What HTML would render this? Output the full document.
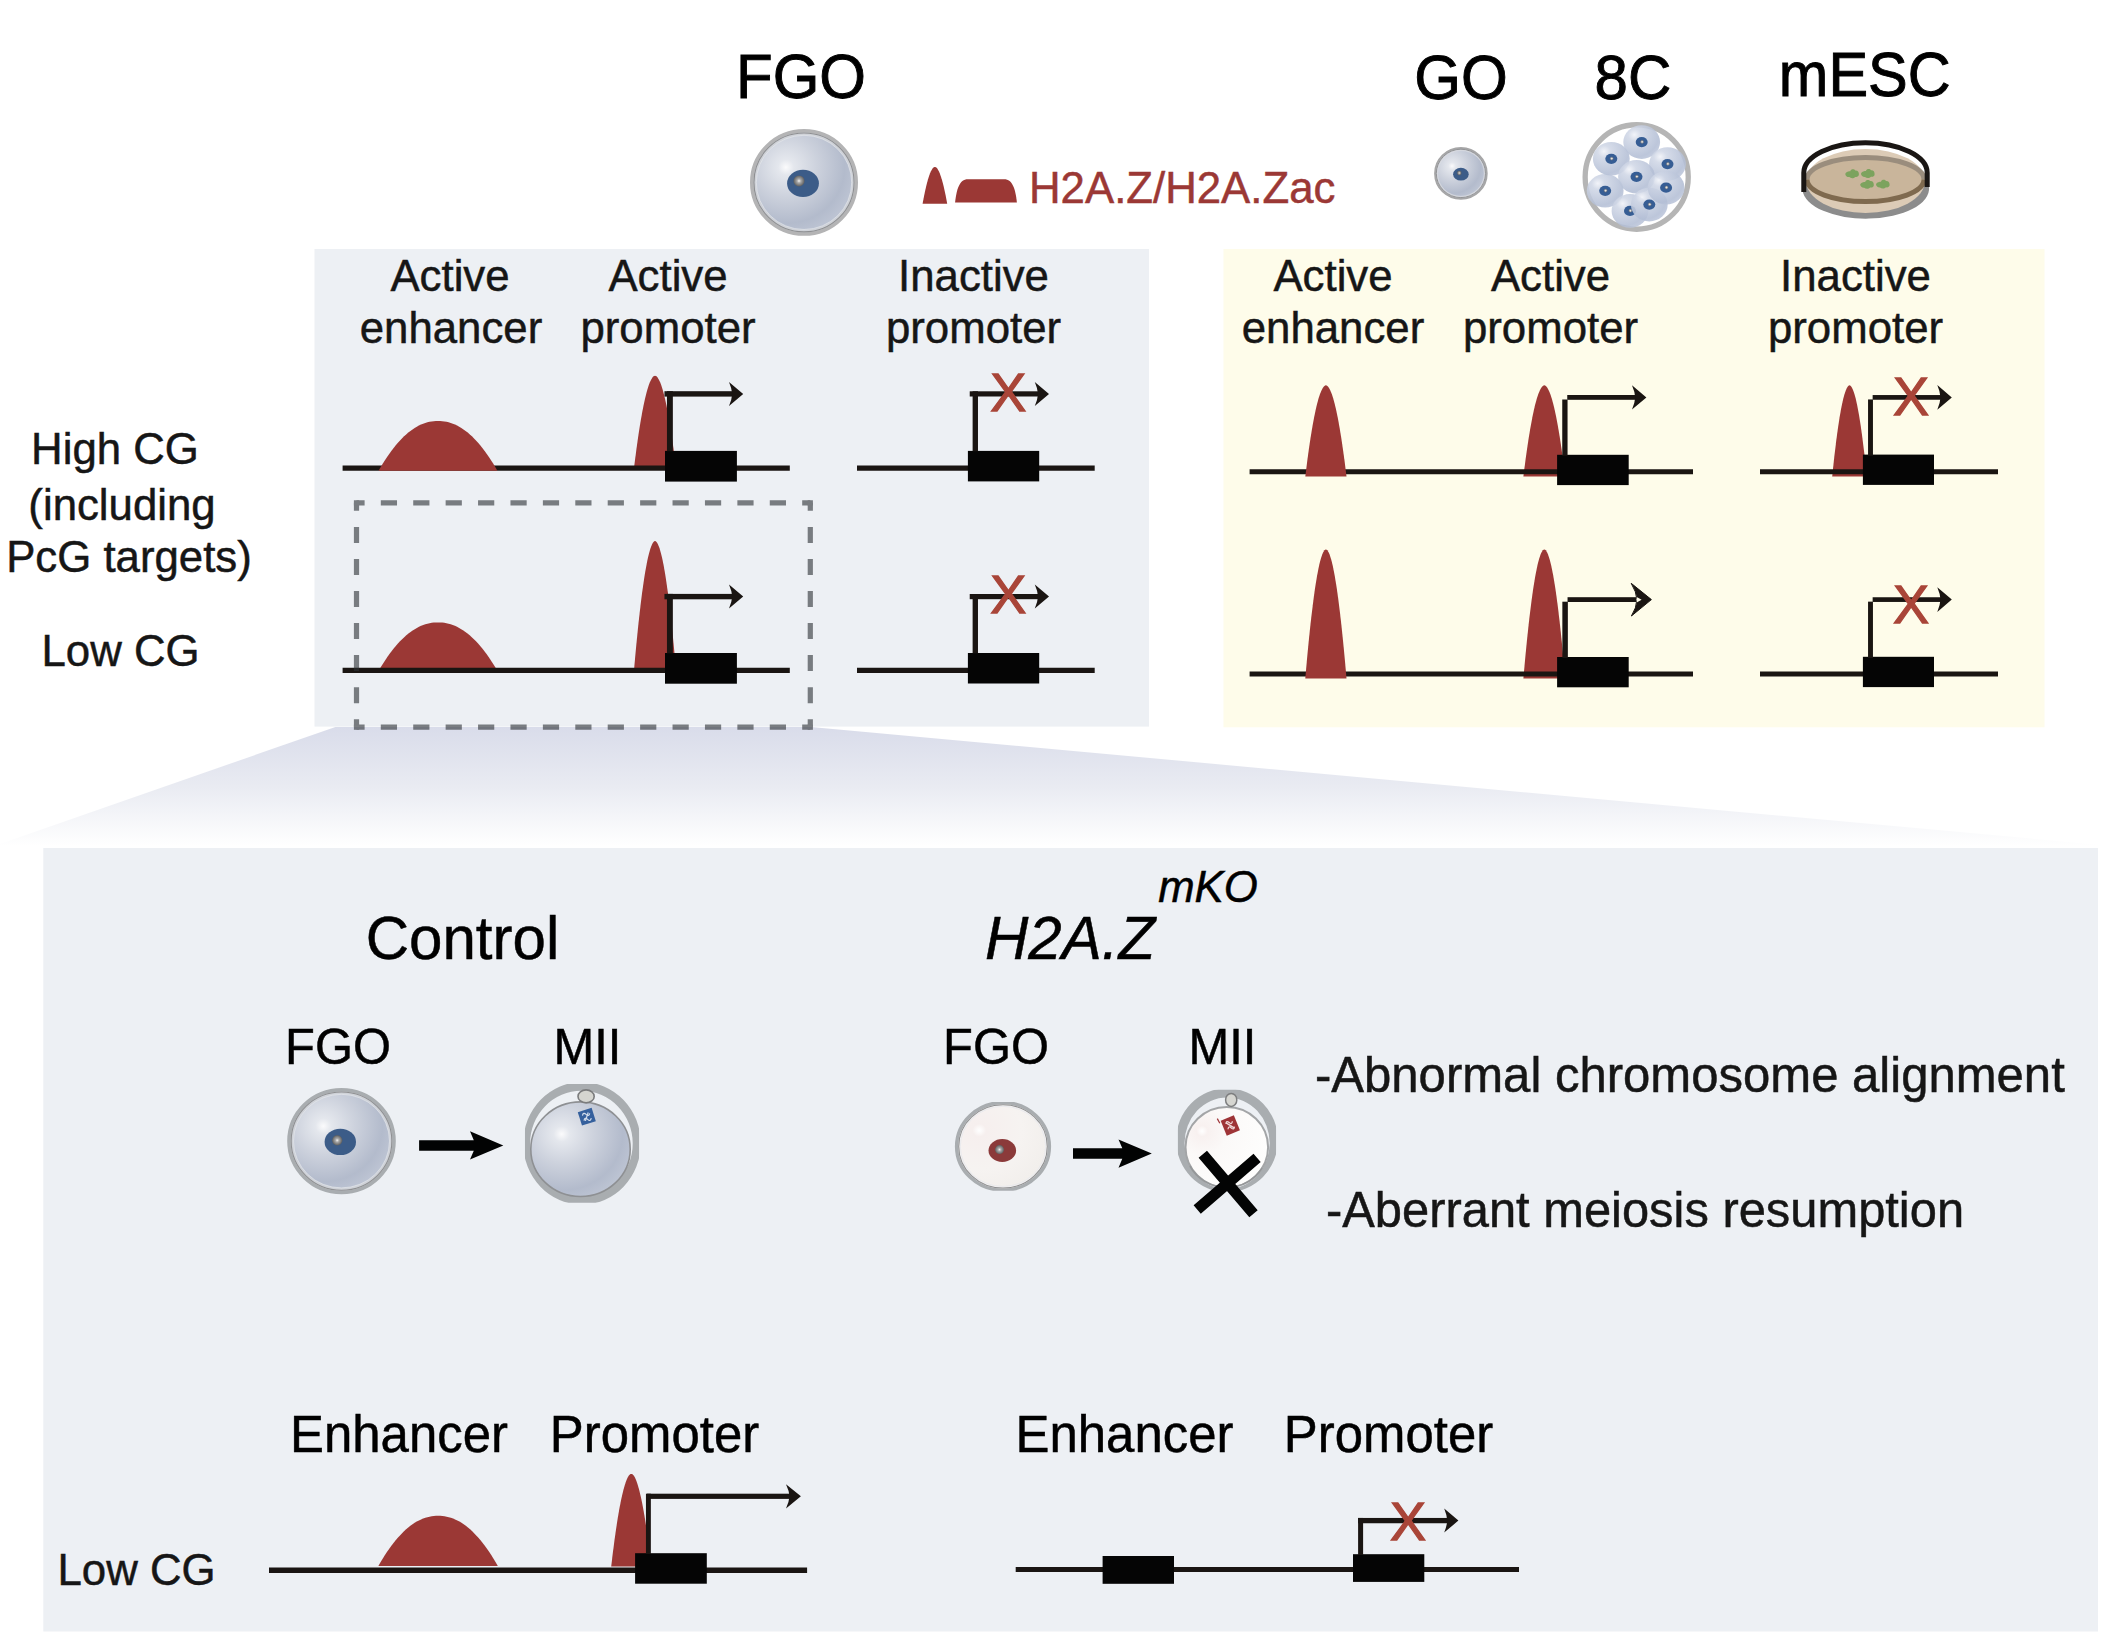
<!DOCTYPE html>
<html lang="en"><head><meta charset="utf-8"><title>H2A.Z graphical abstract</title>
<style>html,body{margin:0;padding:0;background:#fff}svg{display:block}text{font-family:"Liberation Sans", sans-serif}</style></head><body>
<svg width="2116" height="1652" viewBox="0 0 2116 1652">
<defs>
<radialGradient id="gCell" cx="0.33" cy="0.33" r="0.75" fx="0.31" fy="0.34">
<stop offset="0" stop-color="#fbfbfc"/><stop offset="0.11" stop-color="#e4e7ed"/><stop offset="0.42" stop-color="#cdd2dd"/><stop offset="0.8" stop-color="#b3bbcc"/><stop offset="1" stop-color="#bec5d4"/></radialGradient>
<radialGradient id="gCellKO" cx="0.25" cy="0.3" r="0.8" fx="0.22" fy="0.3">
<stop offset="0" stop-color="#ffffff"/><stop offset="0.1" stop-color="#f6efee"/><stop offset="0.6" stop-color="#f6f3f1"/><stop offset="1" stop-color="#f2efec"/></radialGradient>
<radialGradient id="gNuc" cx="0.5" cy="0.5" r="0.5">
<stop offset="0" stop-color="#f4f4f4"/><stop offset="0.35" stop-color="#a9a9a9"/><stop offset="1" stop-color="#5e5e5e"/></radialGradient>
<radialGradient id="gBlast" cx="0.33" cy="0.3" r="0.8" fx="0.3" fy="0.28">
<stop offset="0" stop-color="#f0f2f8"/><stop offset="0.22" stop-color="#d0d7e6"/><stop offset="0.8" stop-color="#b3bed5"/><stop offset="1" stop-color="#bfc8dc"/></radialGradient>
<radialGradient id="gCellKO2" cx="0.22" cy="0.3" r="0.85" fx="0.2" fy="0.3">
<stop offset="0" stop-color="#ffffff"/><stop offset="0.08" stop-color="#f8f1f0"/><stop offset="0.35" stop-color="#fbf9f8"/><stop offset="1" stop-color="#fefefd"/></radialGradient>
<linearGradient id="gTrap" x1="0" y1="0" x2="0" y2="1">
<stop offset="0" stop-color="#d9dcea"/><stop offset="0.5" stop-color="#e9ebf2"/><stop offset="1" stop-color="#ffffff"/></linearGradient>
</defs>
<rect width="2116" height="1652" fill="#ffffff"/>
<rect x="314.5" y="249" width="834.5" height="477.6" fill="#edf0f4"/>
<rect x="1223.5" y="249" width="821" height="478.3" fill="#fefcea"/>
<polygon points="335.4,727 811,727 2112,846 -6,846" fill="url(#gTrap)"/>
<rect x="43.3" y="848" width="2054.7" height="783.5" fill="#edf0f4"/>
<text transform="translate(801,98.4) scale(1,1.055)" font-size="60.06" text-anchor="middle" fill="#000" stroke="#000" stroke-width="0.9"  >FGO</text>
<text transform="translate(1461,99.2) scale(1,1.055)" font-size="60.16" text-anchor="middle" fill="#000" stroke="#000" stroke-width="0.9"  >GO</text>
<text transform="translate(1633,99.2) scale(1,1.055)" font-size="60.06" text-anchor="middle" fill="#000" stroke="#000" stroke-width="0.9"  >8C</text>
<text transform="translate(1864.8,95.8) scale(1,1.055)" font-size="59.5" text-anchor="middle" fill="#000" stroke="#000" stroke-width="0.9"  >mESC</text>
<text transform="translate(1029,202.5) scale(1,1.025)" font-size="43.77" text-anchor="start" fill="#9b3835" stroke="#9b3835" stroke-width="0.5"  >H2A.Z/H2A.Zac</text>
<path d="M922.60,203.80 L923.04,201.37 L923.48,199.02 L923.92,196.75 L924.36,194.56 L924.80,192.44 L925.24,190.41 L925.68,188.45 L926.11,186.57 L926.55,184.77 L926.99,183.05 L927.43,181.41 L927.87,179.86 L928.31,178.39 L928.75,176.99 L929.19,175.69 L929.63,174.47 L930.07,173.33 L930.51,172.28 L930.95,171.32 L931.39,170.45 L931.83,169.66 L932.26,168.97 L932.70,168.37 L933.14,167.87 L933.58,167.47 L934.02,167.17 L934.46,166.97 L934.90,166.90 L935.34,166.97 L935.78,167.17 L936.22,167.47 L936.66,167.87 L937.10,168.37 L937.54,168.97 L937.98,169.66 L938.41,170.45 L938.85,171.32 L939.29,172.28 L939.73,173.33 L940.17,174.47 L940.61,175.69 L941.05,176.99 L941.49,178.39 L941.93,179.86 L942.37,181.41 L942.81,183.05 L943.25,184.77 L943.69,186.57 L944.13,188.45 L944.56,190.41 L945.00,192.44 L945.44,194.56 L945.88,196.75 L946.32,199.02 L946.76,201.37 L947.20,203.80 Z" fill="#9b3835"/>
<path d="M955.1,202.4 C956.6,190 959,179.3 968,179.3 L1004,179.3 C1013,179.3 1015.4,190 1016.9,202.4 Z" fill="#9b3835"/>
<ellipse cx="804" cy="182.4" rx="52.3" ry="51.699999999999996" fill="#cfd2d8" stroke="#b4b4b5" stroke-width="3.4"/>
<ellipse cx="804" cy="182.4" rx="50.050000000000004" ry="49.45" fill="none" stroke="#8f9092" stroke-width="1.1"/>
<ellipse cx="804" cy="182.4" rx="47.7" ry="47.1" fill="url(#gCell)" stroke="#e4e6eb" stroke-width="0.7"/>
<ellipse cx="803" cy="183.4" rx="15.9" ry="13.6" fill="#3c5c88"/>
<circle cx="799" cy="180.9" r="5.5" fill="url(#gNuc)"/>
<ellipse cx="1460.9" cy="173.4" rx="25.85" ry="25.45" fill="#cfd2d8" stroke="#a6a6a7" stroke-width="1.9"/>
<ellipse cx="1460.9" cy="173.4" rx="24.59264705882353" ry="24.19264705882353" fill="none" stroke="#8f9092" stroke-width="0.95"/>
<ellipse cx="1460.9" cy="173.4" rx="23.279411764705884" ry="22.879411764705882" fill="url(#gCell)" stroke="#e4e6eb" stroke-width="0.3911764705882353"/>
<ellipse cx="1460.9" cy="174.20000000000002" rx="7.8" ry="6.4" fill="#3c5c88"/>
<circle cx="1459.3000000000002" cy="173.00000000000003" r="2.2" fill="url(#gNuc)"/>
<ellipse cx="1636.7" cy="177" rx="51.55" ry="52.25" fill="#ffffff" stroke="#b5b5b5" stroke-width="5.3"/>
<ellipse cx="1605.2" cy="190.8" rx="18.4" ry="16.8" fill="url(#gBlast)" fill-opacity="0.88"/>
<ellipse cx="1605.2" cy="190.8" rx="6" ry="5.1" fill="#365d94"/>
<circle cx="1605.6000000000001" cy="190.60000000000002" r="1.4" fill="#e9e7e3" stroke="#6f7074" stroke-width="0.7"/>
<ellipse cx="1611.3" cy="158.8" rx="18.4" ry="16.8" fill="url(#gBlast)" fill-opacity="0.88"/>
<ellipse cx="1611.3" cy="158.8" rx="6" ry="5.1" fill="#365d94"/>
<circle cx="1611.7" cy="158.60000000000002" r="1.4" fill="#e9e7e3" stroke="#6f7074" stroke-width="0.7"/>
<ellipse cx="1641.7" cy="142.1" rx="18.4" ry="16.8" fill="url(#gBlast)" fill-opacity="0.88"/>
<ellipse cx="1641.7" cy="142.1" rx="6" ry="5.1" fill="#365d94"/>
<circle cx="1642.1000000000001" cy="141.9" r="1.4" fill="#e9e7e3" stroke="#6f7074" stroke-width="0.7"/>
<ellipse cx="1667.5" cy="164.1" rx="18.4" ry="16.8" fill="url(#gBlast)" fill-opacity="0.88"/>
<ellipse cx="1667.5" cy="164.1" rx="6" ry="5.1" fill="#365d94"/>
<circle cx="1667.9" cy="163.9" r="1.4" fill="#e9e7e3" stroke="#6f7074" stroke-width="0.7"/>
<ellipse cx="1636.5" cy="176.8" rx="18.4" ry="16.8" fill="url(#gBlast)" fill-opacity="0.88"/>
<ellipse cx="1636.5" cy="176.8" rx="6" ry="5.1" fill="#365d94"/>
<circle cx="1636.9" cy="176.60000000000002" r="1.4" fill="#e9e7e3" stroke="#6f7074" stroke-width="0.7"/>
<ellipse cx="1630" cy="210.9" rx="18.4" ry="16.8" fill="url(#gBlast)" fill-opacity="0.88"/>
<ellipse cx="1630" cy="210.9" rx="6" ry="5.1" fill="#365d94"/>
<circle cx="1630.4" cy="210.70000000000002" r="1.4" fill="#e9e7e3" stroke="#6f7074" stroke-width="0.7"/>
<ellipse cx="1649.3" cy="204.6" rx="18.4" ry="16.8" fill="url(#gBlast)" fill-opacity="0.88"/>
<ellipse cx="1649.3" cy="204.6" rx="6" ry="5.1" fill="#365d94"/>
<circle cx="1649.7" cy="204.4" r="1.4" fill="#e9e7e3" stroke="#6f7074" stroke-width="0.7"/>
<ellipse cx="1666.1" cy="187.7" rx="18.4" ry="16.8" fill="url(#gBlast)" fill-opacity="0.88"/>
<ellipse cx="1666.1" cy="187.7" rx="6" ry="5.1" fill="#365d94"/>
<circle cx="1666.5" cy="187.5" r="1.4" fill="#e9e7e3" stroke="#6f7074" stroke-width="0.7"/>
<g>
<path d="M1802.5,190 A63,30 0 0 0 1929,187 L1929,182 L1802.5,182 Z" fill="#8c8c8c"/>
<ellipse cx="1865.5" cy="181" rx="59.5" ry="32" fill="#dccbb6"/>
<ellipse cx="1865.5" cy="179.5" rx="58.5" ry="22" fill="#c9b59b"/>
<path d="M1807,179.5 A58.5,22 0 0 1 1924,179.5" fill="none" stroke="#9a8d7d" stroke-width="5"/>
<path d="M1807,179.5 A58.5,22 0 0 0 1924,179.5" fill="none" stroke="#7f6a4f" stroke-width="5"/>
<path d="M1803.8,192 V172.7 A61.7,30 0 0 1 1927.2,172.7 V187" fill="none" stroke="#1a1614" stroke-width="5"/>
<path d="M1845.3,173.9 c1,-2.5 3.5,-2.5 5,-2.6 c0.5,-2.4 4,-2.6 5,-0.8 c2.5,-0.2 3.6,1.6 3.6,3.6 c0.3,2 -1.6,3.2 -3.6,2.8 c-1.5,1.6 -4.5,1.6 -6,0.2 c-2,0.2 -4,-1.2 -4,-3.2 Z" fill="#7ca35e"/>
<path d="M1861,173.7 c1,-2.5 3.5,-2.5 5,-2.6 c0.5,-2.4 4,-2.6 5,-0.8 c2.5,-0.2 3.6,1.6 3.6,3.6 c0.3,2 -1.6,3.2 -3.6,2.8 c-1.5,1.6 -4.5,1.6 -6,0.2 c-2,0.2 -4,-1.2 -4,-3.2 Z" fill="#7ca35e"/>
<path d="M1860.2,184.5 c1,-2.5 3.5,-2.5 5,-2.6 c0.5,-2.4 4,-2.6 5,-0.8 c2.5,-0.2 3.6,1.6 3.6,3.6 c0.3,2 -1.6,3.2 -3.6,2.8 c-1.5,1.6 -4.5,1.6 -6,0.2 c-2,0.2 -4,-1.2 -4,-3.2 Z" fill="#7ca35e"/>
<path d="M1876,184.3 c1,-2.5 3.5,-2.5 5,-2.6 c0.5,-2.4 4,-2.6 5,-0.8 c2.5,-0.2 3.6,1.6 3.6,3.6 c0.3,2 -1.6,3.2 -3.6,2.8 c-1.5,1.6 -4.5,1.6 -6,0.2 c-2,0.2 -4,-1.2 -4,-3.2 Z" fill="#7ca35e"/>
</g>
<text transform="translate(450,291) scale(1,1.025)" font-size="43.77" text-anchor="middle" fill="#161616" stroke="#161616" stroke-width="0.5"  >Active</text>
<text transform="translate(451,343) scale(1,1.025)" font-size="43.77" text-anchor="middle" fill="#161616" stroke="#161616" stroke-width="0.5"  >enhancer</text>
<text transform="translate(668,291) scale(1,1.025)" font-size="43.77" text-anchor="middle" fill="#161616" stroke="#161616" stroke-width="0.5"  >Active</text>
<text transform="translate(668,343) scale(1,1.025)" font-size="43.77" text-anchor="middle" fill="#161616" stroke="#161616" stroke-width="0.5"  >promoter</text>
<text transform="translate(973.5,291) scale(1,1.025)" font-size="43.77" text-anchor="middle" fill="#161616" stroke="#161616" stroke-width="0.5"  >Inactive</text>
<text transform="translate(973.5,343) scale(1,1.025)" font-size="43.77" text-anchor="middle" fill="#161616" stroke="#161616" stroke-width="0.5"  >promoter</text>
<text transform="translate(1333,291) scale(1,1.025)" font-size="43.77" text-anchor="middle" fill="#161616" stroke="#161616" stroke-width="0.5"  >Active</text>
<text transform="translate(1333,343) scale(1,1.025)" font-size="43.77" text-anchor="middle" fill="#161616" stroke="#161616" stroke-width="0.5"  >enhancer</text>
<text transform="translate(1550.5,291) scale(1,1.025)" font-size="43.77" text-anchor="middle" fill="#161616" stroke="#161616" stroke-width="0.5"  >Active</text>
<text transform="translate(1550.5,343) scale(1,1.025)" font-size="43.77" text-anchor="middle" fill="#161616" stroke="#161616" stroke-width="0.5"  >promoter</text>
<text transform="translate(1855.5,291) scale(1,1.025)" font-size="43.77" text-anchor="middle" fill="#161616" stroke="#161616" stroke-width="0.5"  >Inactive</text>
<text transform="translate(1855.5,343) scale(1,1.025)" font-size="43.77" text-anchor="middle" fill="#161616" stroke="#161616" stroke-width="0.5"  >promoter</text>
<text transform="translate(115,464) scale(1,1.025)" font-size="43.77" text-anchor="middle" fill="#161616" stroke="#161616" stroke-width="0.5"  >High CG</text>
<text transform="translate(122,520) scale(1,1.025)" font-size="43.77" text-anchor="middle" fill="#161616" stroke="#161616" stroke-width="0.5"  >(including</text>
<text transform="translate(129,571.5) scale(1,1.025)" font-size="43.77" text-anchor="middle" fill="#161616" stroke="#161616" stroke-width="0.5"  >PcG targets)</text>
<text transform="translate(120.5,665.7) scale(1,1.025)" font-size="43.77" text-anchor="middle" fill="#161616" stroke="#161616" stroke-width="0.5"  >Low CG</text>
<path d="M634.00,468.20 L634.75,462.12 L635.50,456.23 L636.25,450.53 L637.00,445.03 L637.75,439.73 L638.50,434.62 L639.25,429.71 L640.00,425.00 L640.75,420.49 L641.50,416.19 L642.25,412.08 L643.00,408.18 L643.75,404.49 L644.50,401.01 L645.25,397.73 L646.00,394.67 L646.75,391.82 L647.50,389.19 L648.25,386.78 L649.00,384.59 L649.75,382.62 L650.50,380.89 L651.25,379.39 L652.00,378.13 L652.75,377.12 L653.50,376.37 L654.25,375.88 L655.00,375.70 L655.75,375.88 L656.50,376.37 L657.25,377.12 L658.00,378.13 L658.75,379.39 L659.50,380.89 L660.25,382.62 L661.00,384.59 L661.75,386.78 L662.50,389.19 L663.25,391.82 L664.00,394.67 L664.75,397.73 L665.50,401.01 L666.25,404.49 L667.00,408.18 L667.75,412.08 L668.50,416.19 L669.25,420.49 L670.00,425.00 L670.75,429.71 L671.50,434.62 L672.25,439.73 L673.00,445.03 L673.75,450.53 L674.50,456.23 L675.25,462.12 L676.00,468.20 Z" fill="#9b3835"/>
<line x1="342.6" y1="468.2" x2="789.8" y2="468.2" stroke="#1a1512" stroke-width="5.3"/>
<line x1="857" y1="468.2" x2="1094.7" y2="468.2" stroke="#1a1512" stroke-width="5.3"/>
<path d="M378.60,470.70 L380.72,467.05 L382.84,463.54 L384.96,460.17 L387.09,456.96 L389.21,453.88 L391.33,450.95 L393.45,448.16 L395.57,445.52 L397.69,443.01 L399.81,440.65 L401.94,438.43 L404.06,436.35 L406.18,434.40 L408.30,432.59 L410.42,430.92 L412.54,429.39 L414.66,427.99 L416.79,426.72 L418.91,425.58 L421.03,424.58 L423.15,423.70 L425.27,422.96 L427.39,422.33 L429.51,421.83 L431.64,421.46 L433.76,421.19 L435.88,421.05 L438.00,421.00 L440.12,421.05 L442.24,421.19 L444.36,421.46 L446.49,421.83 L448.61,422.33 L450.73,422.96 L452.85,423.70 L454.97,424.58 L457.09,425.58 L459.21,426.72 L461.34,427.99 L463.46,429.39 L465.58,430.92 L467.70,432.59 L469.82,434.40 L471.94,436.35 L474.06,438.43 L476.19,440.65 L478.31,443.01 L480.43,445.52 L482.55,448.16 L484.67,450.95 L486.79,453.88 L488.91,456.96 L491.04,460.17 L493.16,463.54 L495.28,467.05 L497.40,470.70 Z" fill="#9b3835"/>
<rect x="665" y="450.9" width="71.89999999999998" height="30.69999999999999" fill="#050505"/>
<rect x="666.9499999999999" y="391.2" width="5.9" height="60.000000000000014" fill="#1a1512"/>
<rect x="664.4499999999999" y="391.2" width="68.75000000000011" height="5.4" fill="#1a1512"/>
<path d="M743.2,393.9 L729.0,381.9 Q731.88,388.5 732.2,393.9 Q731.88,399.29999999999995 729.0,405.9 Z" fill="#1a1512"/>
<rect x="967.9" y="450.9" width="71.30000000000007" height="30.5" fill="#050505"/>
<rect x="972.625" y="391.29999999999995" width="5.35" height="59.90000000000001" fill="#1a1512"/>
<rect x="969.725" y="391.29999999999995" width="69.27499999999998" height="5.2" fill="#1a1512"/>
<path d="M1049,393.9 L1034.8,381.9 Q1037.68,388.5 1038.0,393.9 Q1037.68,399.29999999999995 1034.8,405.9 Z" fill="#1a1512"/>
<text x="1008.2" y="411.05799999999994" font-size="54" text-anchor="middle" fill="#a94538" stroke="#a94538" stroke-width="1.3">X</text>
<path d="M378.90,670.30 L381.01,666.78 L383.12,663.40 L385.23,660.16 L387.34,657.05 L389.45,654.09 L391.56,651.27 L393.67,648.58 L395.79,646.03 L397.90,643.62 L400.01,641.34 L402.12,639.20 L404.23,637.19 L406.34,635.32 L408.45,633.57 L410.56,631.96 L412.67,630.48 L414.78,629.13 L416.89,627.91 L419.00,626.82 L421.11,625.85 L423.23,625.01 L425.34,624.29 L427.45,623.69 L429.56,623.20 L431.67,622.84 L433.78,622.59 L435.89,622.44 L438.00,622.40 L440.11,622.44 L442.22,622.59 L444.33,622.84 L446.44,623.20 L448.55,623.69 L450.66,624.29 L452.77,625.01 L454.89,625.85 L457.00,626.82 L459.11,627.91 L461.22,629.13 L463.33,630.48 L465.44,631.96 L467.55,633.57 L469.66,635.32 L471.77,637.19 L473.88,639.20 L475.99,641.34 L478.10,643.62 L480.21,646.03 L482.33,648.58 L484.44,651.27 L486.55,654.09 L488.66,657.05 L490.77,660.16 L492.88,663.40 L494.99,666.78 L497.10,670.30 Z" fill="#9b3835"/>
<path d="M634.00,670.30 L634.75,661.80 L635.50,653.57 L636.25,645.61 L637.00,637.92 L637.75,630.50 L638.50,623.37 L639.25,616.50 L640.00,609.92 L640.75,603.62 L641.50,597.59 L642.25,591.86 L643.00,586.41 L643.75,581.24 L644.50,576.37 L645.25,571.80 L646.00,567.51 L646.75,563.53 L647.50,559.85 L648.25,556.48 L649.00,553.42 L649.75,550.68 L650.50,548.25 L651.25,546.16 L652.00,544.40 L652.75,542.98 L653.50,541.93 L654.25,541.25 L655.00,541.00 L655.75,541.25 L656.50,541.93 L657.25,542.98 L658.00,544.40 L658.75,546.16 L659.50,548.25 L660.25,550.68 L661.00,553.42 L661.75,556.48 L662.50,559.85 L663.25,563.53 L664.00,567.51 L664.75,571.80 L665.50,576.37 L666.25,581.24 L667.00,586.41 L667.75,591.86 L668.50,597.59 L669.25,603.62 L670.00,609.92 L670.75,616.50 L671.50,623.37 L672.25,630.50 L673.00,637.92 L673.75,645.61 L674.50,653.57 L675.25,661.80 L676.00,670.30 Z" fill="#9b3835"/>
<line x1="342.6" y1="670.3" x2="789.8" y2="670.3" stroke="#1a1512" stroke-width="5.3"/>
<line x1="857" y1="670.3" x2="1094.7" y2="670.3" stroke="#1a1512" stroke-width="5.3"/>
<rect x="665" y="653.0" width="71.89999999999998" height="30.699999999999932" fill="#050505"/>
<rect x="666.9499999999999" y="593.9" width="5.9" height="59.399999999999935" fill="#1a1512"/>
<rect x="664.4499999999999" y="593.9" width="68.75000000000011" height="5.4" fill="#1a1512"/>
<path d="M743.2,596.6 L729.0,584.6 Q731.88,591.2 732.2,596.6 Q731.88,602.0 729.0,608.6 Z" fill="#1a1512"/>
<rect x="967.9" y="653.0" width="71.30000000000007" height="30.5" fill="#050505"/>
<rect x="972.625" y="594.0" width="5.35" height="59.29999999999993" fill="#1a1512"/>
<rect x="969.725" y="594.0" width="69.27499999999998" height="5.2" fill="#1a1512"/>
<path d="M1049,596.6 L1034.8,584.6 Q1037.68,591.2 1038.0,596.6 Q1037.68,602.0 1034.8,608.6 Z" fill="#1a1512"/>
<text x="1008.2" y="613.008" font-size="54" text-anchor="middle" fill="#a94538" stroke="#a94538" stroke-width="1.3">X</text>
<g opacity="0.6">
<line x1="356.5" y1="502.85" x2="810.3" y2="502.85" stroke="#2c3034" stroke-width="5.2" stroke-dasharray="16.207 16.207" stroke-dashoffset="8.104"/>
<line x1="356.5" y1="727.2" x2="810.3" y2="727.2" stroke="#2c3034" stroke-width="5.2" stroke-dasharray="16.207 16.207" stroke-dashoffset="8.104"/>
<line x1="356.5" y1="502.85" x2="356.5" y2="727.2" stroke="#2c3034" stroke-width="5.2" stroke-dasharray="16.025 16.025" stroke-dashoffset="8.013"/>
<line x1="810.3" y1="502.85" x2="810.3" y2="727.2" stroke="#2c3034" stroke-width="5.2" stroke-dasharray="16.025 16.025" stroke-dashoffset="8.013"/>
<rect x="353.9" y="500.25" width="5.2" height="5.2" fill="#2c3034"/>
<rect x="807.6999999999999" y="500.25" width="5.2" height="5.2" fill="#2c3034"/>
<rect x="353.9" y="724.6" width="5.2" height="5.2" fill="#2c3034"/>
<rect x="807.6999999999999" y="724.6" width="5.2" height="5.2" fill="#2c3034"/>
</g>
<path d="M1523.40,476.50 L1524.15,470.50 L1524.89,464.70 L1525.64,459.08 L1526.39,453.66 L1527.13,448.43 L1527.88,443.40 L1528.63,438.55 L1529.37,433.91 L1530.12,429.47 L1530.86,425.22 L1531.61,421.17 L1532.36,417.33 L1533.10,413.69 L1533.85,410.25 L1534.60,407.02 L1535.34,404.00 L1536.09,401.19 L1536.84,398.60 L1537.58,396.22 L1538.33,394.06 L1539.08,392.13 L1539.82,390.42 L1540.57,388.94 L1541.31,387.70 L1542.06,386.70 L1542.81,385.96 L1543.55,385.48 L1544.30,385.30 L1545.05,385.48 L1545.79,385.96 L1546.54,386.70 L1547.29,387.70 L1548.03,388.94 L1548.78,390.42 L1549.53,392.13 L1550.27,394.06 L1551.02,396.22 L1551.76,398.60 L1552.51,401.19 L1553.26,404.00 L1554.00,407.02 L1554.75,410.25 L1555.50,413.69 L1556.24,417.33 L1556.99,421.17 L1557.74,425.22 L1558.48,429.47 L1559.23,433.91 L1559.98,438.55 L1560.72,443.40 L1561.47,448.43 L1562.21,453.66 L1562.96,459.08 L1563.71,464.70 L1564.45,470.50 L1565.20,476.50 Z" fill="#9b3835"/>
<path d="M1832.20,476.50 L1832.82,470.50 L1833.44,464.70 L1834.05,459.08 L1834.67,453.66 L1835.29,448.43 L1835.91,443.40 L1836.53,438.55 L1837.14,433.91 L1837.76,429.47 L1838.38,425.22 L1839.00,421.17 L1839.61,417.33 L1840.23,413.69 L1840.85,410.25 L1841.47,407.02 L1842.09,404.00 L1842.70,401.19 L1843.32,398.60 L1843.94,396.22 L1844.56,394.06 L1845.17,392.13 L1845.79,390.42 L1846.41,388.94 L1847.03,387.70 L1847.65,386.70 L1848.26,385.96 L1848.88,385.48 L1849.50,385.30 L1850.12,385.48 L1850.74,385.96 L1851.35,386.70 L1851.97,387.70 L1852.59,388.94 L1853.21,390.42 L1853.83,392.13 L1854.44,394.06 L1855.06,396.22 L1855.68,398.60 L1856.30,401.19 L1856.91,404.00 L1857.53,407.02 L1858.15,410.25 L1858.77,413.69 L1859.39,417.33 L1860.00,421.17 L1860.62,425.22 L1861.24,429.47 L1861.86,433.91 L1862.47,438.55 L1863.09,443.40 L1863.71,448.43 L1864.33,453.66 L1864.95,459.08 L1865.56,464.70 L1866.18,470.50 L1866.80,476.50 Z" fill="#9b3835"/>
<line x1="1249.6" y1="471.8" x2="1693" y2="471.8" stroke="#1a1512" stroke-width="5"/>
<line x1="1760" y1="471.8" x2="1998" y2="471.8" stroke="#1a1512" stroke-width="5"/>
<path d="M1305.30,476.50 L1306.04,470.50 L1306.77,464.70 L1307.51,459.08 L1308.24,453.66 L1308.98,448.43 L1309.71,443.40 L1310.45,438.55 L1311.19,433.91 L1311.92,429.47 L1312.66,425.22 L1313.39,421.17 L1314.13,417.33 L1314.86,413.69 L1315.60,410.25 L1316.34,407.02 L1317.07,404.00 L1317.81,401.19 L1318.54,398.60 L1319.28,396.22 L1320.01,394.06 L1320.75,392.13 L1321.49,390.42 L1322.22,388.94 L1322.96,387.70 L1323.69,386.70 L1324.43,385.96 L1325.16,385.48 L1325.90,385.30 L1326.64,385.48 L1327.37,385.96 L1328.11,386.70 L1328.84,387.70 L1329.58,388.94 L1330.31,390.42 L1331.05,392.13 L1331.79,394.06 L1332.52,396.22 L1333.26,398.60 L1333.99,401.19 L1334.73,404.00 L1335.46,407.02 L1336.20,410.25 L1336.94,413.69 L1337.67,417.33 L1338.41,421.17 L1339.14,425.22 L1339.88,429.47 L1340.61,433.91 L1341.35,438.55 L1342.09,443.40 L1342.82,448.43 L1343.56,453.66 L1344.29,459.08 L1345.03,464.70 L1345.76,470.50 L1346.50,476.50 Z" fill="#9b3835"/>
<rect x="1557.1" y="454.8" width="71.60000000000014" height="30.30000000000001" fill="#050505"/>
<rect x="1862.9" y="454.6" width="71.09999999999991" height="30.30000000000001" fill="#050505"/>
<rect x="1562.25" y="399.49999999999994" width="5.3" height="56.30000000000003" fill="#1a1512"/>
<rect x="1567.2500000000002" y="395.0" width="68.94999999999982" height="4.8" fill="#1a1512"/>
<path d="M1646.4,397.4 L1632.0,385.2 Q1634.88,391.90999999999997 1635.2,397.4 Q1634.88,402.89 1632.0,409.59999999999997 Z" fill="#1a1512"/>
<rect x="1868.05" y="399.45" width="4.9" height="56.35000000000003" fill="#1a1512"/>
<rect x="1872.65" y="395.04999999999995" width="68.84999999999991" height="4.7" fill="#1a1512"/>
<path d="M1951.8,397.4 L1937.3,385.09999999999997 Q1940.18,391.86499999999995 1940.5,397.4 Q1940.18,402.935 1937.3,409.7 Z" fill="#1a1512"/>
<text x="1911.1" y="415.008" font-size="54" text-anchor="middle" fill="#a94538" stroke="#a94538" stroke-width="1.3">X</text>
<path d="M1523.40,678.50 L1524.15,670.01 L1524.89,661.79 L1525.64,653.85 L1526.39,646.17 L1527.13,638.77 L1527.88,631.64 L1528.63,624.79 L1529.37,618.21 L1530.12,611.92 L1530.86,605.91 L1531.61,600.18 L1532.36,594.74 L1533.10,589.58 L1533.85,584.72 L1534.60,580.15 L1535.34,575.87 L1536.09,571.90 L1536.84,568.23 L1537.58,564.86 L1538.33,561.80 L1539.08,559.06 L1539.82,556.64 L1540.57,554.55 L1541.31,552.79 L1542.06,551.38 L1542.81,550.33 L1543.55,549.65 L1544.30,549.40 L1545.05,549.65 L1545.79,550.33 L1546.54,551.38 L1547.29,552.79 L1548.03,554.55 L1548.78,556.64 L1549.53,559.06 L1550.27,561.80 L1551.02,564.86 L1551.76,568.23 L1552.51,571.90 L1553.26,575.87 L1554.00,580.15 L1554.75,584.72 L1555.50,589.58 L1556.24,594.74 L1556.99,600.18 L1557.74,605.91 L1558.48,611.92 L1559.23,618.21 L1559.98,624.79 L1560.72,631.64 L1561.47,638.77 L1562.21,646.17 L1562.96,653.85 L1563.71,661.79 L1564.45,670.01 L1565.20,678.50 Z" fill="#9b3835"/>
<line x1="1249.6" y1="674.0" x2="1693" y2="674.0" stroke="#1a1512" stroke-width="5"/>
<line x1="1760" y1="674.0" x2="1998" y2="674.0" stroke="#1a1512" stroke-width="5"/>
<path d="M1305.30,678.50 L1306.04,670.01 L1306.77,661.79 L1307.51,653.85 L1308.24,646.17 L1308.98,638.77 L1309.71,631.64 L1310.45,624.79 L1311.19,618.21 L1311.92,611.92 L1312.66,605.91 L1313.39,600.18 L1314.13,594.74 L1314.86,589.58 L1315.60,584.72 L1316.34,580.15 L1317.07,575.87 L1317.81,571.90 L1318.54,568.23 L1319.28,564.86 L1320.01,561.80 L1320.75,559.06 L1321.49,556.64 L1322.22,554.55 L1322.96,552.79 L1323.69,551.38 L1324.43,550.33 L1325.16,549.65 L1325.90,549.40 L1326.64,549.65 L1327.37,550.33 L1328.11,551.38 L1328.84,552.79 L1329.58,554.55 L1330.31,556.64 L1331.05,559.06 L1331.79,561.80 L1332.52,564.86 L1333.26,568.23 L1333.99,571.90 L1334.73,575.87 L1335.46,580.15 L1336.20,584.72 L1336.94,589.58 L1337.67,594.74 L1338.41,600.18 L1339.14,605.91 L1339.88,611.92 L1340.61,618.21 L1341.35,624.79 L1342.09,631.64 L1342.82,638.77 L1343.56,646.17 L1344.29,653.85 L1345.03,661.79 L1345.76,670.01 L1346.50,678.50 Z" fill="#9b3835"/>
<rect x="1557.1" y="657.0" width="71.60000000000014" height="30.299999999999955" fill="#050505"/>
<rect x="1862.9" y="656.8" width="71.09999999999991" height="30.300000000000068" fill="#050505"/>
<rect x="1562.35" y="601.7" width="5.5" height="56.299999999999976" fill="#1a1512"/>
<rect x="1567.55" y="597.2" width="68.45000000000005" height="4.8" fill="#1a1512"/>
<path d="M1651.4,599.6 L1631.2,583.3 Q1636.6,592 1636.9,599.6 Q1636.6,608 1631.4,616 Z" fill="#1a1512" stroke="#1a1512" stroke-width="1" stroke-linejoin="miter"/>
<path d="M1636.7,596.9 L1641.6,599.8 L1636.7,602.6 Z" fill="#fefcea"/>
<rect x="1868.05" y="601.6500000000001" width="4.9" height="56.34999999999997" fill="#1a1512"/>
<rect x="1872.65" y="597.25" width="68.84999999999991" height="4.7" fill="#1a1512"/>
<path d="M1951.8,599.6 L1937.3,587.3000000000001 Q1940.18,594.065 1940.5,599.6 Q1940.18,605.135 1937.3,611.9 Z" fill="#1a1512"/>
<text x="1911.1" y="623.1080000000001" font-size="54" text-anchor="middle" fill="#a94538" stroke="#a94538" stroke-width="1.3">X</text>
<text transform="translate(462.5,959) scale(1,1.025)" font-size="60.06" text-anchor="middle" fill="#000" stroke="#000" stroke-width="0.5"  >Control</text>
<text transform="translate(1070,959) scale(1,1.025)" font-size="60.06" text-anchor="middle" fill="#000" stroke="#000" stroke-width="0.5" font-style="italic" >H2A.Z</text>
<text transform="translate(1208,901.5) scale(1,1.025)" font-size="43.77" text-anchor="middle" fill="#000" stroke="#000" stroke-width="0.5" font-style="italic" >mKO</text>
<text transform="translate(338,1064) scale(1,1.025)" font-size="48.86" text-anchor="middle" fill="#000" stroke="#000" stroke-width="0.5"  >FGO</text>
<text transform="translate(587.5,1064) scale(1,1.025)" font-size="48.86" text-anchor="middle" fill="#000" stroke="#000" stroke-width="0.5"  >MII</text>
<text transform="translate(996,1064) scale(1,1.025)" font-size="48.86" text-anchor="middle" fill="#000" stroke="#000" stroke-width="0.5"  >FGO</text>
<text transform="translate(1222.5,1064) scale(1,1.025)" font-size="48.86" text-anchor="middle" fill="#000" stroke="#000" stroke-width="0.5"  >MII</text>
<text transform="translate(1315,1092) scale(1,1.025)" font-size="49.07" text-anchor="start" fill="#161616" stroke="#161616" stroke-width="0.5"  >-Abnormal chromosome alignment</text>
<text transform="translate(1326,1226.5) scale(1,1.025)" font-size="48.86" text-anchor="start" fill="#161616" stroke="#161616" stroke-width="0.5"  >-Aberrant meiosis resumption</text>
<ellipse cx="341.5" cy="1141.1" rx="52.599999999999994" ry="51.4" fill="#cfd2d8" stroke="#a9adb0" stroke-width="3.4"/>
<ellipse cx="341.5" cy="1141.1" rx="50.35" ry="49.150000000000006" fill="none" stroke="#8f9092" stroke-width="1.1"/>
<ellipse cx="341.5" cy="1141.1" rx="48.0" ry="46.800000000000004" fill="url(#gCell)" stroke="#e4e6eb" stroke-width="0.7"/>
<ellipse cx="340.3" cy="1141.8999999999999" rx="15.7" ry="13.2" fill="#3c5c88"/>
<circle cx="337.2" cy="1140.3" r="5.1" fill="url(#gNuc)"/>
<path d="M419.1,1140.15 H473.8 L470.0,1131.2 L503.3,1145.4 L470.0,1159.6000000000001 L473.8,1150.65 H419.1 Z" fill="#020303"/>
<path d="M1073.0,1148.35 H1122.3 L1118.5,1139.3999999999999 L1151.8,1153.6 L1118.5,1167.8 L1122.3,1158.85 H1073.0 Z" fill="#020303"/>
<g>
<clipPath id="clipM1"><rect x="524.97" y="1084" width="114.08" height="118.65"/></clipPath>
<g clip-path="url(#clipM1)">
<path fill-rule="evenodd" fill="#a9adb0" d="M523.2,1143.3 a58.8,61.3 0 1 0 117.6,0 a58.8,61.3 0 1 0 -117.6,0 Z M530.1,1143.4 a51.3,52.5 0 1 0 102.6,0 a51.3,52.5 0 1 0 -102.6,0 Z"/>
</g>
<ellipse cx="580.5" cy="1149.2" rx="49.7" ry="47.3" fill="url(#gCell)" stroke="#8e9093" stroke-width="1.6"/>
<ellipse cx="586.1" cy="1096.4" rx="8.1" ry="6.5" fill="#d5d5d0" stroke="#7b7c7d" stroke-width="1.6"/>
<g transform="translate(586.8,1116.7) rotate(-17.4)"><rect x="-7.25" y="-7" width="14.5" height="14" fill="#35609d"/><path d="M-3.8,-2.4 q1.9,-3.4 3.8,0 t3.8,0 M-3.8,2.8 q1.9,-3.4 3.8,0 t3.8,0 M-2.6,3.6 L2.6,-3.6" fill="none" stroke="#d3ddec" stroke-width="1.2"/></g>
</g>
<clipPath id="clipC1"><rect x="952.9" y="1102.07" width="100.2" height="88.61000000000013"/></clipPath>
<g clip-path="url(#clipC1)">
<ellipse cx="1003" cy="1146.4" rx="46.45" ry="43.85" fill="#f3f1f0" stroke="#a9adb0" stroke-width="3.3"/>
<ellipse cx="1003" cy="1146.4" rx="44.26617647058824" ry="41.66617647058824" fill="none" stroke="#8f9092" stroke-width="1.0676470588235294"/>
</g>
<ellipse cx="1003" cy="1146.4" rx="42.66470588235294" ry="40.06470588235294" fill="url(#gCellKO)" stroke="#e4e6eb" stroke-width="0.6794117647058823"/>
<ellipse cx="1002.3" cy="1150.5" rx="13.8" ry="11.4" fill="#8b3a3a"/>
<circle cx="999.5" cy="1149.6" r="4.5" fill="url(#gNuc)"/>
<g>
<clipPath id="clipM2"><rect x="1177.9" y="1089.7" width="98.15" height="101.2"/></clipPath>
<g clip-path="url(#clipM2)">
<path fill-rule="evenodd" fill="#a9adb0" d="M1176.1,1140.2 a50.9,51.9 0 1 0 101.8,0 a50.9,51.9 0 1 0 -101.8,0 Z M1184.5,1143.2 a42.6,45.8 0 1 0 85.2,0 a42.6,45.8 0 1 0 -85.2,0 Z"/>
</g>
<ellipse cx="1226.8" cy="1147.2" rx="41.3" ry="40.2" fill="url(#gCellKO2)" stroke="#a3a5a7" stroke-width="2"/>
<path d="M1190,1166 A41.3,40.2 0 0 0 1262,1168" fill="none" stroke="#8f9193" stroke-width="1.6" opacity="0.7"/>
<ellipse cx="1231.2" cy="1099.9" rx="5.6" ry="6.5" fill="#d6d6d1" stroke="#7d7e7f" stroke-width="1.5"/>
<g transform="translate(1230.3,1125.5) rotate(-22)"><rect x="-7.1" y="-8.1" width="14.2" height="16.2" fill="#9e3437"/><path d="M-3.5,-3.2 q1.8,-3.4 3.5,0 t3.5,0 M-3.5,2.6 q1.8,-3.4 3.5,0 t3.5,0 M-3,-4 L3,4" fill="none" stroke="#efd9d9" stroke-width="1.3"/></g>
<path d="M1217.3,1118.6 L1219.8,1123.2" stroke="#9e3437" stroke-width="1.2" fill="none"/>
<path d="M1197.2,1209.5 L1257.1,1157.9 M1202.8,1154.2 L1253.5,1213.7" stroke="#030404" stroke-width="11" fill="none"/>
</g>
<text transform="translate(399,1451.8) scale(1,1.025)" font-size="50.9" text-anchor="middle" fill="#000" stroke="#000" stroke-width="0.5"  >Enhancer</text>
<text transform="translate(654.5,1451.8) scale(1,1.025)" font-size="50.9" text-anchor="middle" fill="#000" stroke="#000" stroke-width="0.5"  >Promoter</text>
<text transform="translate(1124.5,1451.8) scale(1,1.025)" font-size="50.9" text-anchor="middle" fill="#000" stroke="#000" stroke-width="0.5"  >Enhancer</text>
<text transform="translate(1388.5,1451.8) scale(1,1.025)" font-size="50.9" text-anchor="middle" fill="#000" stroke="#000" stroke-width="0.5"  >Promoter</text>
<text transform="translate(136.5,1584.6) scale(1,1.025)" font-size="43.77" text-anchor="middle" fill="#161616" stroke="#161616" stroke-width="0.5"  >Low CG</text>
<path d="M378.40,1566.00 L380.53,1562.31 L382.66,1558.77 L384.80,1555.37 L386.93,1552.12 L389.06,1549.01 L391.19,1546.05 L393.32,1543.24 L395.46,1540.56 L397.59,1538.04 L399.72,1535.65 L401.85,1533.40 L403.99,1531.30 L406.12,1529.34 L408.25,1527.51 L410.38,1525.82 L412.51,1524.27 L414.65,1522.86 L416.78,1521.58 L418.91,1520.43 L421.04,1519.42 L423.18,1518.53 L425.31,1517.78 L427.44,1517.15 L429.57,1516.64 L431.70,1516.26 L433.84,1516.00 L435.97,1515.85 L438.10,1515.80 L440.23,1515.85 L442.36,1516.00 L444.50,1516.26 L446.63,1516.64 L448.76,1517.15 L450.89,1517.78 L453.03,1518.53 L455.16,1519.42 L457.29,1520.43 L459.42,1521.58 L461.55,1522.86 L463.69,1524.27 L465.82,1525.82 L467.95,1527.51 L470.08,1529.34 L472.21,1531.30 L474.35,1533.40 L476.48,1535.65 L478.61,1538.04 L480.74,1540.56 L482.88,1543.24 L485.01,1546.05 L487.14,1549.01 L489.27,1552.12 L491.40,1555.37 L493.54,1558.77 L495.67,1562.31 L497.80,1566.00 Z" fill="#9b3835"/>
<path d="M611.20,1566.60 L611.92,1560.51 L612.64,1554.60 L613.35,1548.90 L614.07,1543.38 L614.79,1538.07 L615.51,1532.95 L616.23,1528.03 L616.94,1523.31 L617.66,1518.79 L618.38,1514.47 L619.10,1510.36 L619.81,1506.45 L620.53,1502.75 L621.25,1499.26 L621.97,1495.98 L622.69,1492.91 L623.40,1490.05 L624.12,1487.42 L624.84,1485.00 L625.56,1482.81 L626.27,1480.84 L626.99,1479.10 L627.71,1477.60 L628.43,1476.34 L629.15,1475.32 L629.86,1474.57 L630.58,1474.08 L631.30,1473.90 L632.02,1474.08 L632.74,1474.57 L633.45,1475.32 L634.17,1476.34 L634.89,1477.60 L635.61,1479.10 L636.32,1480.84 L637.04,1482.81 L637.76,1485.00 L638.48,1487.42 L639.20,1490.05 L639.91,1492.91 L640.63,1495.98 L641.35,1499.26 L642.07,1502.75 L642.79,1506.45 L643.50,1510.36 L644.22,1514.47 L644.94,1518.79 L645.66,1523.31 L646.37,1528.03 L647.09,1532.95 L647.81,1538.07 L648.53,1543.38 L649.25,1548.90 L649.96,1554.60 L650.68,1560.51 L651.40,1566.60 Z" fill="#9b3835"/>
<line x1="269" y1="1570.3" x2="807.1" y2="1570.3" stroke="#1a1512" stroke-width="5.4"/>
<rect x="635.1" y="1553.2" width="71.69999999999993" height="30.5" fill="#050505"/>
<rect x="645.9499999999999" y="1493.7" width="4.9" height="60.30000000000005" fill="#1a1512"/>
<rect x="647.05" y="1493.7" width="143.45000000000005" height="5.2" fill="#1a1512"/>
<path d="M800.9,1496.3 L786.0,1484.2 Q789.15,1490.855 789.5,1496.3 Q789.15,1501.745 786.0,1508.3999999999999 Z" fill="#1a1512"/>
<line x1="1015.7" y1="1569.5" x2="1519" y2="1569.5" stroke="#1a1512" stroke-width="4.8"/>
<rect x="1102.6" y="1556" width="71.40000000000009" height="27.799999999999955" fill="#050505"/>
<rect x="1353" y="1554.2" width="71.29999999999995" height="27.700000000000045" fill="#050505"/>
<rect x="1358.1" y="1517.9499999999998" width="5" height="37.05000000000009" fill="#1a1512"/>
<rect x="1358.1" y="1517.9499999999998" width="90.10000000000014" height="5.3" fill="#1a1512"/>
<path d="M1458.4,1520.6 L1444.2,1508.6 Q1446.9,1515.1999999999998 1447.2,1520.6 Q1446.9,1526.0 1444.2,1532.6 Z" fill="#1a1512"/>
<text x="1408.1" y="1540.008" font-size="54" text-anchor="middle" fill="#a94538" stroke="#a94538" stroke-width="1.3">X</text>
</svg></body></html>
